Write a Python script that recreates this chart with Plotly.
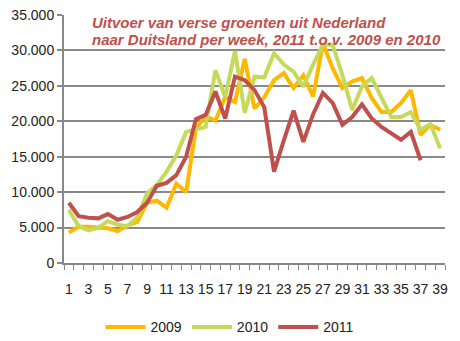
import plotly.graph_objects as go

weeks = list(range(1, 40))
v2009 = [4300, 5100, 5100, 5000, 4900, 4500, 5300, 5800, 8500, 8800, 7800, 11200, 10000,
         19000, 20700, 20100, 23400, 22700, 28800, 21800, 23400, 25800, 26800, 24700, 26500,
         23500, 31000, 27500, 24700, 25600, 26100, 23300, 21300, 21300, 22600, 24400, 18100,
         19500, 18800]
v2010 = [7500, 5200, 4600, 5000, 5900, 5400, 5200, 6500, 9800, 11000, 12900, 15200, 18500,
         18800, 19200, 27200, 23400, 29900, 21200, 26300, 26200, 29600, 28000, 27000, 24900,
         28000, 30800, 30800, 26500, 21600, 24900, 26100, 23300, 20600, 20600, 21300, 18800,
         19600, 16200]
v2011 = [8500, 6600, 6400, 6300, 6900, 6100, 6500, 7200, 8500, 10900, 11300, 12400, 15000,
         20300, 20900, 24200, 20400, 26300, 25800, 24400, 22000, 12900, 17300, 21500, 17100,
         21000, 24000, 22600, 19500, 20600, 22400, 20400, 19200, 18300, 17400, 18500, 14500,
         None, None]
series_names = ["2009", "2010", "2011"]
series_vals = [v2009, v2010, v2011]
colors = ["#FFB800", "#C5DA5A", "#C0504D"]
yticks = [0, 5000, 10000, 15000, 20000, 25000, 30000, 35000]
ytick_text = ["0", "5.000", "10.000", "15.000", "20.000", "25.000", "30.000", "35.000"]
xtick_vals = [w for w in weeks if w % 2 == 1]
title_lines = ["Uitvoer van verse groenten uit Nederland",
               "naar Duitsland per week, 2011 t.o.v. 2009 en 2010"]

fig = go.Figure()
for name, vals, col in zip(series_names, series_vals, colors):
    fig.add_trace(go.Scatter(x=weeks, y=vals, name=name, mode="lines",
                             line=dict(color=col, width=4), connectgaps=False))

grid = "#898989"
title_font = dict(family="Liberation Sans, Arial", size=15, color="#C0504D",
                  weight="bold", style="italic")
fig.update_layout(
    width=460, height=341,
    margin=dict(l=64, r=15, t=15, b=78, autoexpand=False),
    paper_bgcolor="white", plot_bgcolor="white",
    font=dict(family="Liberation Sans, Arial", size=14, color="#222222"),
    showlegend=True,
    legend=dict(orientation="h", x=0.5, xanchor="center", xref="container",
                y=0.04, yanchor="middle", yref="container",
                font=dict(size=14), itemwidth=40, tracegroupgap=0),
    xaxis=dict(range=[0.5, 39.5], tickmode="array", tickvals=xtick_vals,
               ticktext=[str(v) for v in xtick_vals], automargin=False,
               ticks="outside", ticklen=12, tickcolor="rgba(0,0,0,0)",
               showgrid=False, zeroline=False, showline=True, linecolor=grid, linewidth=2,
               minor=dict(tick0=0.5, dtick=1, ticks="outside", ticklen=5, tickcolor=grid,
                          tickwidth=1, showgrid=False),
               tickfont=dict(size=14)),
    yaxis=dict(range=[0, 35000], tickmode="array", tickvals=yticks, ticktext=ytick_text,
               automargin=False,
               showgrid=True, gridcolor=grid, gridwidth=2, zeroline=False,
               showline=True, linecolor=grid, linewidth=2,
               ticks="outside", ticklen=5, tickcolor=grid, tickwidth=2,
               tickfont=dict(size=14)),
    annotations=[
        dict(text="<b><i>" + title_lines[0] + "</i></b>", xref="paper", yref="paper",
             x=0.07, y=1.008, xanchor="left", yanchor="top", showarrow=False,
             borderpad=0, font=title_font),
        dict(text="<b><i>" + title_lines[1] + "</i></b>", xref="paper", yref="paper",
             x=0.07, y=0.9395, xanchor="left", yanchor="top", showarrow=False,
             borderpad=0, font=title_font),
    ],
)

fig.write_html("out.html")
